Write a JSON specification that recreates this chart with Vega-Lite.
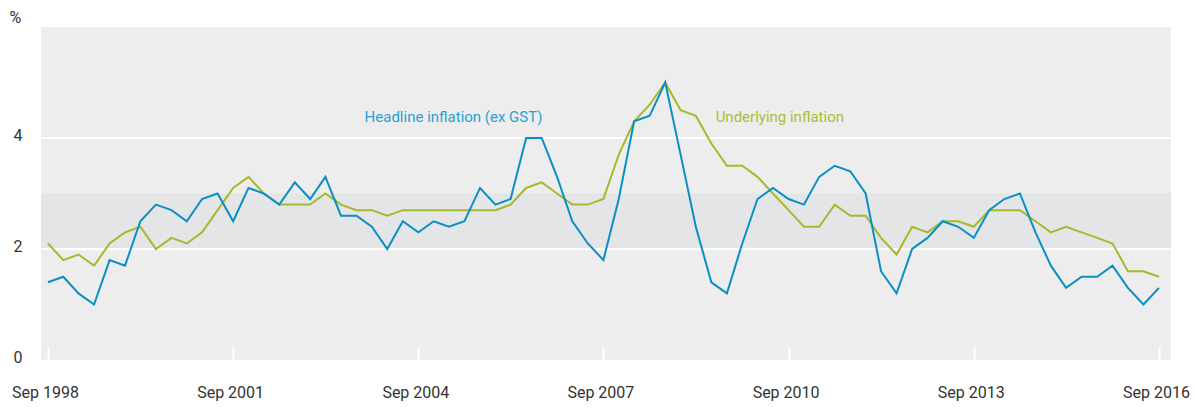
{
  "$schema": "https://vega.github.io/schema/vega-lite/v6.json",
  "width": 1130,
  "height": 333,
  "autosize": "none",
  "padding": {"left": 41, "top": 27, "right": 24, "bottom": 47},
  "background": "white",
  "config": {
    "view": {"fill": "#ededed", "stroke": null},
    "font": "Roboto",
    "axisX": {
      "grid": false,
      "domain": false,
      "ticks": true,
      "tickColor": "white",
      "tickWidth": 2,
      "tickSize": -13,
      "labelPadding": 37,
      "labelOffset": -3,
      "labelFont": "Roboto",
      "labelFontSize": 16,
      "labelColor": "#333333",
      "labelFlush": false,
      "labelOverlap": false
    },
    "axisY": {
      "grid": false,
      "domain": false,
      "ticks": false,
      "labelPadding": 19,
      "labelOffset": -3,
      "labelFont": "Roboto",
      "labelFontSize": 16,
      "labelColor": "#333333",
      "titleAngle": 0,
      "titleX": -32,
      "titleY": -18,
      "titleAlign": "left",
      "titleBaseline": "top",
      "titleFont": "Roboto",
      "titleFontSize": 16,
      "titleFontWeight": "normal",
      "titleColor": "#333333"
    }
  },
  "layer": [
    {
      "data": {"values": [{"lo": 2, "hi": 3}]},
      "mark": {"type": "rect", "color": "#e4e5e7"},
      "encoding": {
        "y": {"field": "lo", "type": "quantitative", "scale": {"domain": [0, 6], "nice": false}, "axis": {"values": [0, 2, 4], "title": "%"}},
        "y2": {"field": "hi"}
      }
    },
    {
      "data": {"values": [{"g": 2}, {"g": 4}]},
      "mark": {"type": "rule", "color": "white", "strokeWidth": 2},
      "encoding": {
        "y": {"field": "g", "type": "quantitative", "axis": {"values": [0, 2, 4], "title": "%"}}
      }
    },
    {
      "data": {
        "values": [
          {"d": "1998-09", "h": 1.4, "u": 2.1}, {"d": "1998-12", "h": 1.5, "u": 1.8}, {"d": "1999-03", "h": 1.2, "u": 1.9}, {"d": "1999-06", "h": 1.0, "u": 1.7},
          {"d": "1999-09", "h": 1.8, "u": 2.1}, {"d": "1999-12", "h": 1.7, "u": 2.3}, {"d": "2000-03", "h": 2.5, "u": 2.4}, {"d": "2000-06", "h": 2.8, "u": 2.0},
          {"d": "2000-09", "h": 2.7, "u": 2.2}, {"d": "2000-12", "h": 2.5, "u": 2.1}, {"d": "2001-03", "h": 2.9, "u": 2.3}, {"d": "2001-06", "h": 3.0, "u": 2.7},
          {"d": "2001-09", "h": 2.5, "u": 3.1}, {"d": "2001-12", "h": 3.1, "u": 3.3}, {"d": "2002-03", "h": 3.0, "u": 3.0}, {"d": "2002-06", "h": 2.8, "u": 2.8},
          {"d": "2002-09", "h": 3.2, "u": 2.8}, {"d": "2002-12", "h": 2.9, "u": 2.8}, {"d": "2003-03", "h": 3.3, "u": 3.0}, {"d": "2003-06", "h": 2.6, "u": 2.8},
          {"d": "2003-09", "h": 2.6, "u": 2.7}, {"d": "2003-12", "h": 2.4, "u": 2.7}, {"d": "2004-03", "h": 2.0, "u": 2.6}, {"d": "2004-06", "h": 2.5, "u": 2.7},
          {"d": "2004-09", "h": 2.3, "u": 2.7}, {"d": "2004-12", "h": 2.5, "u": 2.7}, {"d": "2005-03", "h": 2.4, "u": 2.7}, {"d": "2005-06", "h": 2.5, "u": 2.7},
          {"d": "2005-09", "h": 3.1, "u": 2.7}, {"d": "2005-12", "h": 2.8, "u": 2.7}, {"d": "2006-03", "h": 2.9, "u": 2.8}, {"d": "2006-06", "h": 4.0, "u": 3.1},
          {"d": "2006-09", "h": 4.0, "u": 3.2}, {"d": "2006-12", "h": 3.3, "u": 3.0}, {"d": "2007-03", "h": 2.5, "u": 2.8}, {"d": "2007-06", "h": 2.1, "u": 2.8},
          {"d": "2007-09", "h": 1.8, "u": 2.9}, {"d": "2007-12", "h": 2.9, "u": 3.7}, {"d": "2008-03", "h": 4.3, "u": 4.3}, {"d": "2008-06", "h": 4.4, "u": 4.6},
          {"d": "2008-09", "h": 5.0, "u": 5.0}, {"d": "2008-12", "h": 3.7, "u": 4.5}, {"d": "2009-03", "h": 2.4, "u": 4.4}, {"d": "2009-06", "h": 1.4, "u": 3.9},
          {"d": "2009-09", "h": 1.2, "u": 3.5}, {"d": "2009-12", "h": 2.1, "u": 3.5}, {"d": "2010-03", "h": 2.9, "u": 3.3}, {"d": "2010-06", "h": 3.1, "u": 3.0},
          {"d": "2010-09", "h": 2.9, "u": 2.7}, {"d": "2010-12", "h": 2.8, "u": 2.4}, {"d": "2011-03", "h": 3.3, "u": 2.4}, {"d": "2011-06", "h": 3.5, "u": 2.8},
          {"d": "2011-09", "h": 3.4, "u": 2.6}, {"d": "2011-12", "h": 3.0, "u": 2.6}, {"d": "2012-03", "h": 1.6, "u": 2.2}, {"d": "2012-06", "h": 1.2, "u": 1.9},
          {"d": "2012-09", "h": 2.0, "u": 2.4}, {"d": "2012-12", "h": 2.2, "u": 2.3}, {"d": "2013-03", "h": 2.5, "u": 2.5}, {"d": "2013-06", "h": 2.4, "u": 2.5},
          {"d": "2013-09", "h": 2.2, "u": 2.4}, {"d": "2013-12", "h": 2.7, "u": 2.7}, {"d": "2014-03", "h": 2.9, "u": 2.7}, {"d": "2014-06", "h": 3.0, "u": 2.7},
          {"d": "2014-09", "h": 2.3, "u": 2.5}, {"d": "2014-12", "h": 1.7, "u": 2.3}, {"d": "2015-03", "h": 1.3, "u": 2.4}, {"d": "2015-06", "h": 1.5, "u": 2.3},
          {"d": "2015-09", "h": 1.5, "u": 2.2}, {"d": "2015-12", "h": 1.7, "u": 2.1}, {"d": "2016-03", "h": 1.3, "u": 1.6}, {"d": "2016-06", "h": 1.0, "u": 1.6},
          {"d": "2016-09", "h": 1.3, "u": 1.5}
        ],
        "format": {"parse": {"d": "date:'%Y-%m'"}}
      },
      "transform": [{"fold": ["u", "h"], "as": ["series", "value"]}],
      "mark": {"type": "line", "strokeWidth": 2},
      "encoding": {
        "x": {
          "field": "d",
          "type": "temporal",
          "scale": {"domain": [{"year": 1998, "month": 7, "date": 22}, {"year": 2016, "month": 11, "date": 11}]},
          "axis": {
            "values": [
              {"year": 1998, "month": 9, "date": 1}, {"year": 2001, "month": 9, "date": 1}, {"year": 2004, "month": 9, "date": 1},
              {"year": 2007, "month": 9, "date": 1}, {"year": 2010, "month": 9, "date": 1}, {"year": 2013, "month": 9, "date": 1},
              {"year": 2016, "month": 9, "date": 1}
            ],
            "format": "%b %Y",
            "title": null
          }
        },
        "y": {"field": "value", "type": "quantitative", "axis": {"values": [0, 2, 4], "title": "%"}},
        "color": {
          "field": "series",
          "type": "nominal",
          "scale": {
            "domain": ["u", "h", "Underlying inflation", "Headline inflation (ex GST)"],
            "range": ["#a5b92c", "#0a8fc5", "#a8bf38", "#2a9fd6"]
          },
          "legend": null
        }
      }
    },
    {
      "data": {
        "values": [
          {"d": "2005-03-28", "v": 4.38, "t": "Headline inflation (ex GST)"},
          {"d": "2010-07-11", "v": 4.38, "t": "Underlying inflation"}
        ],
        "format": {"parse": {"d": "date:'%Y-%m-%d'"}}
      },
      "mark": {"type": "text", "font": "Roboto", "fontSize": 15, "align": "center", "baseline": "middle"},
      "encoding": {
        "x": {
          "field": "d",
          "type": "temporal",
          "axis": {
            "values": [
              {"year": 1998, "month": 9, "date": 1}, {"year": 2001, "month": 9, "date": 1}, {"year": 2004, "month": 9, "date": 1},
              {"year": 2007, "month": 9, "date": 1}, {"year": 2010, "month": 9, "date": 1}, {"year": 2013, "month": 9, "date": 1},
              {"year": 2016, "month": 9, "date": 1}
            ],
            "format": "%b %Y",
            "title": null
          }
        },
        "y": {"field": "v", "type": "quantitative", "axis": {"values": [0, 2, 4], "title": "%"}},
        "text": {"field": "t"},
        "color": {"field": "t", "type": "nominal", "legend": null}
      }
    }
  ]
}
